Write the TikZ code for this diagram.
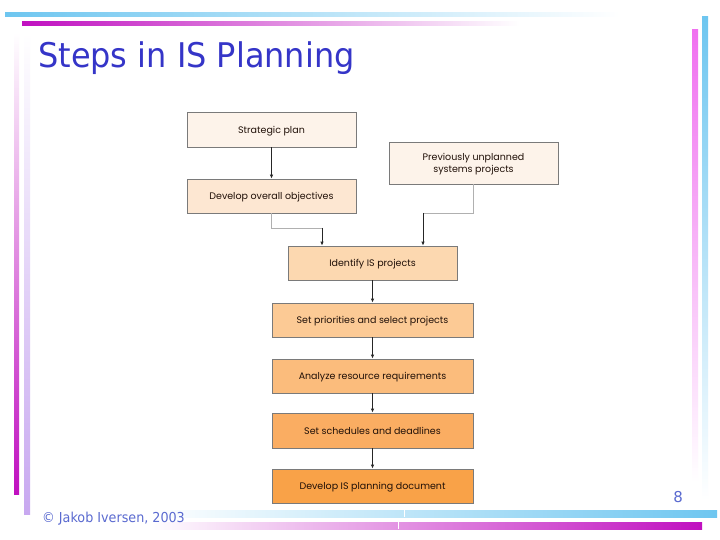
\documentclass[tikz,border=0pt]{standalone}
\usepackage{fontspec}
\usepackage{graphicx}
\setmainfont{DejaVu Sans}
\newfontfamily\boxfont{Poppins}
\usetikzlibrary{arrows.meta}
\definecolor{barblue}{HTML}{6EC6F0}
\definecolor{barmag}{HTML}{C010C0}
\definecolor{barpink}{HTML}{F070F0}
\definecolor{barlav}{HTML}{C8A8F0}
\definecolor{titleblue}{HTML}{3535C8}
\definecolor{footblue}{HTML}{5A6AD0}
\definecolor{fa}{HTML}{FDF3EA}
\definecolor{fb}{HTML}{FDE7D2}
\definecolor{fc}{HTML}{FCD8B0}
\definecolor{fd}{HTML}{FCCA95}
\definecolor{fe}{HTML}{FBBC7C}
\definecolor{ff}{HTML}{FAAD62}
\definecolor{fg}{HTML}{F9A248}
\definecolor{boxline}{HTML}{7A7A7A}
\definecolor{lightline}{HTML}{B0B0B0}
\definecolor{boxtext}{HTML}{201008}
\tikzset{
  flowbox/.style={draw=boxline, line width=0.8pt, rectangle, align=center,
    font=\boxfont\fontsize{9.5}{12}\selectfont, text=boxtext, inner sep=0pt,
    text depth=0pt, yshift=0pt},
  arr/.style={draw=black!85, line width=0.8pt, -{Latex[length=4pt,width=3.5pt]}},
  thin grey/.style={draw=lightline, line width=0.8pt}
}
\begin{document}
\begin{tikzpicture}[x=1pt,y=-1pt]
\useasboundingbox (0,0) rectangle (720,540);
\fill[white] (0,0) rectangle (720,540);
% decorative bars
\shade[left color=barblue, right color=white] (5,13) rectangle (620,17);
\shade[left color=barmag, right color=white] (22,22) rectangle (520,26);
\shade[top color=barpink, bottom color=white] (692,30) rectangle (698,482);
\shade[top color=barblue, bottom color=white] (702,17) rectangle (708,500);
\shade[top color=white, bottom color=barmag] (14,33) rectangle (19,494);
\shade[top color=white, bottom color=barlav] (24,33) rectangle (30,514);
\shade[left color=white, right color=barblue] (150,510) rectangle (717,517);
\shade[left color=white, right color=barmag] (150,522) rectangle (702,529);
\fill[white] (403.5,510) rectangle (404.5,517);
\fill[white] (397.5,522) rectangle (398.5,529);
% title and footer
\node[anchor=base west, inner sep=0pt, text=titleblue, font=\fontsize{34}{40}\selectfont] (title) at (38,68) {\scalebox{0.94}[1]{Steps in IS Planning}};
\node[anchor=base west, inner sep=0pt, text=footblue, font=\fontsize{13.7}{16}\selectfont] (foot) at (42,522) {\scalebox{0.93}[1]{\textcopyright\ Jakob Iversen, 2003}};
\node[anchor=base east, inner sep=0pt, text=footblue, font=\fontsize{15}{18}\selectfont] (pg) at (683,502) {8};
% boxes
\node[flowbox, fill=fa, minimum width=169pt, minimum height=35pt] (b1) at (271.5,129.5) {Strategic plan};
\node[flowbox, fill=fa, minimum width=169pt, minimum height=42pt] (b2) at (473.5,163) {Previously unplanned\\systems projects};
\node[flowbox, fill=fb, minimum width=169pt, minimum height=34pt] (b3) at (271.5,196) {Develop overall objectives};
\node[flowbox, fill=fc, minimum width=169pt, minimum height=34pt] (b4) at (372.5,263) {Identify IS projects};
\node[flowbox, fill=fd, minimum width=201pt, minimum height=34pt] (b5) at (372.5,320) {Set priorities and select projects};
\node[flowbox, fill=fe, minimum width=201pt, minimum height=34pt] (b6) at (372.5,376) {Analyze resource requirements};
\node[flowbox, fill=ff, minimum width=201pt, minimum height=35pt] (b7) at (372.5,430.5) {Set schedules and deadlines};
\node[flowbox, fill=fg, minimum width=201pt, minimum height=34pt] (b8) at (372.5,486) {Develop IS planning document};
% connectors
\coordinate (cL) at (322,228);
\coordinate (cR) at (423,213);
\draw[arr] (b1) -- (b3);
\draw[thin grey] (b3.south) |- (cL);
\draw[arr] (cL) -- (cL |- b4.north);
\draw[thin grey] (b2.south) |- (cR);
\draw[arr] (cR) -- (cR |- b4.north);
\draw[arr] (b4) -- (b5);
\draw[arr] (b5) -- (b6);
\draw[arr] (b6) -- (b7);
\draw[arr] (b7) -- (b8);
\end{tikzpicture}
\end{document}
